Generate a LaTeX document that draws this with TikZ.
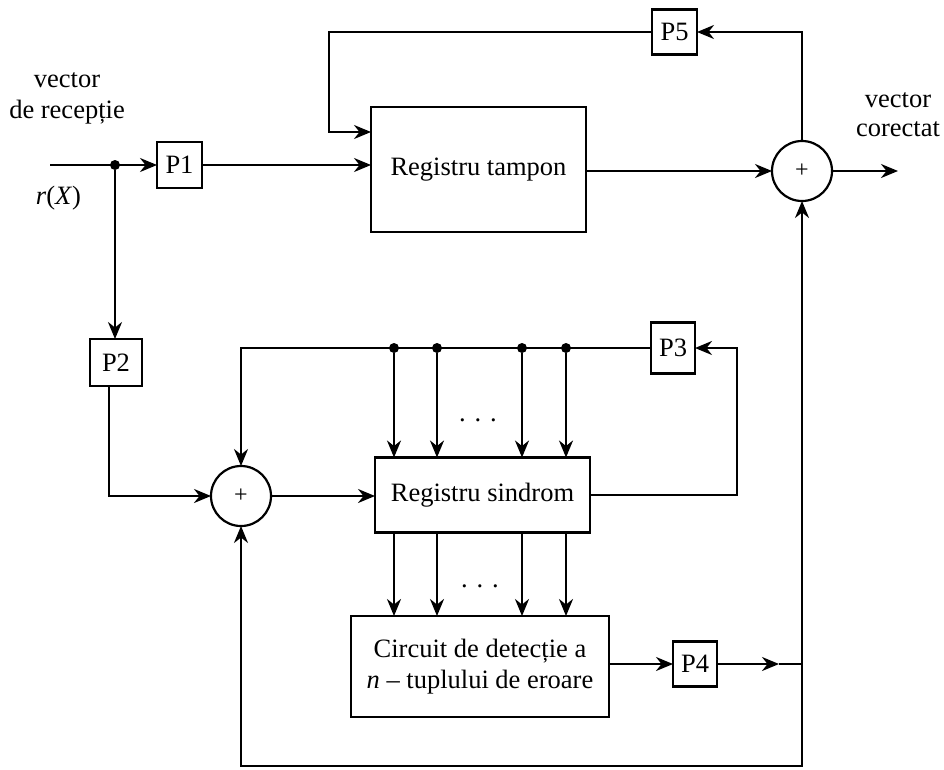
\documentclass[tikz,border=0pt]{standalone}
\usepackage{fontspec}
\setmainfont{Liberation Serif}
\usetikzlibrary{arrows.meta}
\begin{document}
\begin{tikzpicture}[x=1pt,y=-1pt,
  wire/.style={line width=2.2pt},
  arr/.style={wire,-{Stealth[length=17pt,width=14pt,inset=5.5pt]}},
  block/.style={draw,line width=2.2pt,inner sep=0pt,outer sep=0pt,
    font=\fontsize{26.5}{31}\selectfont,align=center},
  perm/.style={block},
  sumnode/.style={draw,circle,line width=2.2pt,minimum size=60pt,
    inner sep=0pt,outer sep=0pt,font=\fontsize{24}{24}\selectfont},
  junction/.style={circle,fill,inner sep=0pt,minimum size=10pt},
  lbl/.style={font=\fontsize{26.5}{31}\selectfont,align=center,inner sep=0pt}]
\useasboundingbox (0,0) rectangle (944,769);

% registers and detector
\node[block,minimum width=215pt,minimum height=125pt] (tampon) at (478.5,169.5) {Registru tampon};
\node[block,minimum width=215pt,minimum height=75pt] (sindrom) at (482.5,495) {Registru sindrom};
\node[block,minimum width=258pt,minimum height=101pt] (detect) at (480,666.5)
  {Circuit de detecție a\\\textit{n} – tuplului de eroare};

% gates P1..P5
\node[perm,minimum width=45pt,minimum height=46pt] (P1) at (179.5,165) {P1};
\node[perm,minimum width=52pt,minimum height=47pt] (P2) at (116,362.5) {P2};
\node[perm,minimum width=44pt,minimum height=51pt] (P3) at (673,348) {P3};
\node[perm,minimum width=44pt,minimum height=45pt] (P4) at (695,664) {P4};
\node[perm,minimum width=45pt,minimum height=45pt] (P5) at (674.5,32) {P5};

% modulo-2 adders
\node[sumnode] (sumR) at (802,171) {+};
\node[sumnode] (sumL) at (241,496) {+};

% labels
\node[lbl,anchor=base] (lblA) at (67,87) {vector};
\node[lbl,anchor=base] (lblB) at (67,118) {de recepție};
\node[lbl,anchor=base] (lblR) at (58.5,204) {\textit{r}(\textit{X})};
\node[lbl,anchor=base] (lblC) at (898,107) {vector};
\node[lbl,anchor=base] (lblD) at (898,136) {corectat};
\node[lbl] (dotsA) at (478,420) {. . .};
\node[lbl] (dotsB) at (480,586) {. . .};

% input branch
\coordinate (in) at (50,165);
\node[junction] (split) at (115,165) {};
\draw[arr] (in) -- (P1.west);
\draw[arr] (split) -- (split |- P2.north);
\draw[arr] (P1.east) -- (P1.east -| tampon.west);

% buffer path and output
\coordinate (out) at (898,171);
\draw[arr] (tampon.east |- sumR.west) -- (sumR.west);
\draw[arr] (sumR.east) -- (out);
\draw[arr] (sumR.north) -- (sumR.north |- P5.east) -- (P5.east);
\coordinate (fbL) at (329,132);
\draw[arr] (P5.west) -| (fbL) -- (fbL -| tampon.west);

% syndrome loop
\draw[arr] ([xshift=-7pt]P2.south) |- (sumL.west);
\draw[arr] (sumL.east) -- (sumL.east -| sindrom.west);
\coordinate (loopR) at (737,348);
\draw[arr] (sindrom.east) -| (loopR) -- (P3.east);
\draw[arr] (P3.west) -| (sumL.north);
\foreach \x [count=\i] in {394,437,522,566} {
  \node[junction] (tap\i) at (\x,348) {};
  \draw[arr] (tap\i) -- (tap\i |- sindrom.north);
  \draw[arr] (tap\i |- sindrom.south) -- (tap\i |- detect.north);
}

% error pattern path
\coordinate (mid) at (779,664);
\coordinate (jn) at (802,664);
\coordinate (bot) at (802,766);
\draw[arr] (P4.west -| detect.east) -- (P4.west);
\draw[arr] (P4.east) -- (mid);
\draw[wire] (mid) -- (jn);
\draw[arr] (jn) -- (sumR.south);
\draw[arr] (jn) -- (bot) -| (sumL.south);
\end{tikzpicture}
\end{document}
